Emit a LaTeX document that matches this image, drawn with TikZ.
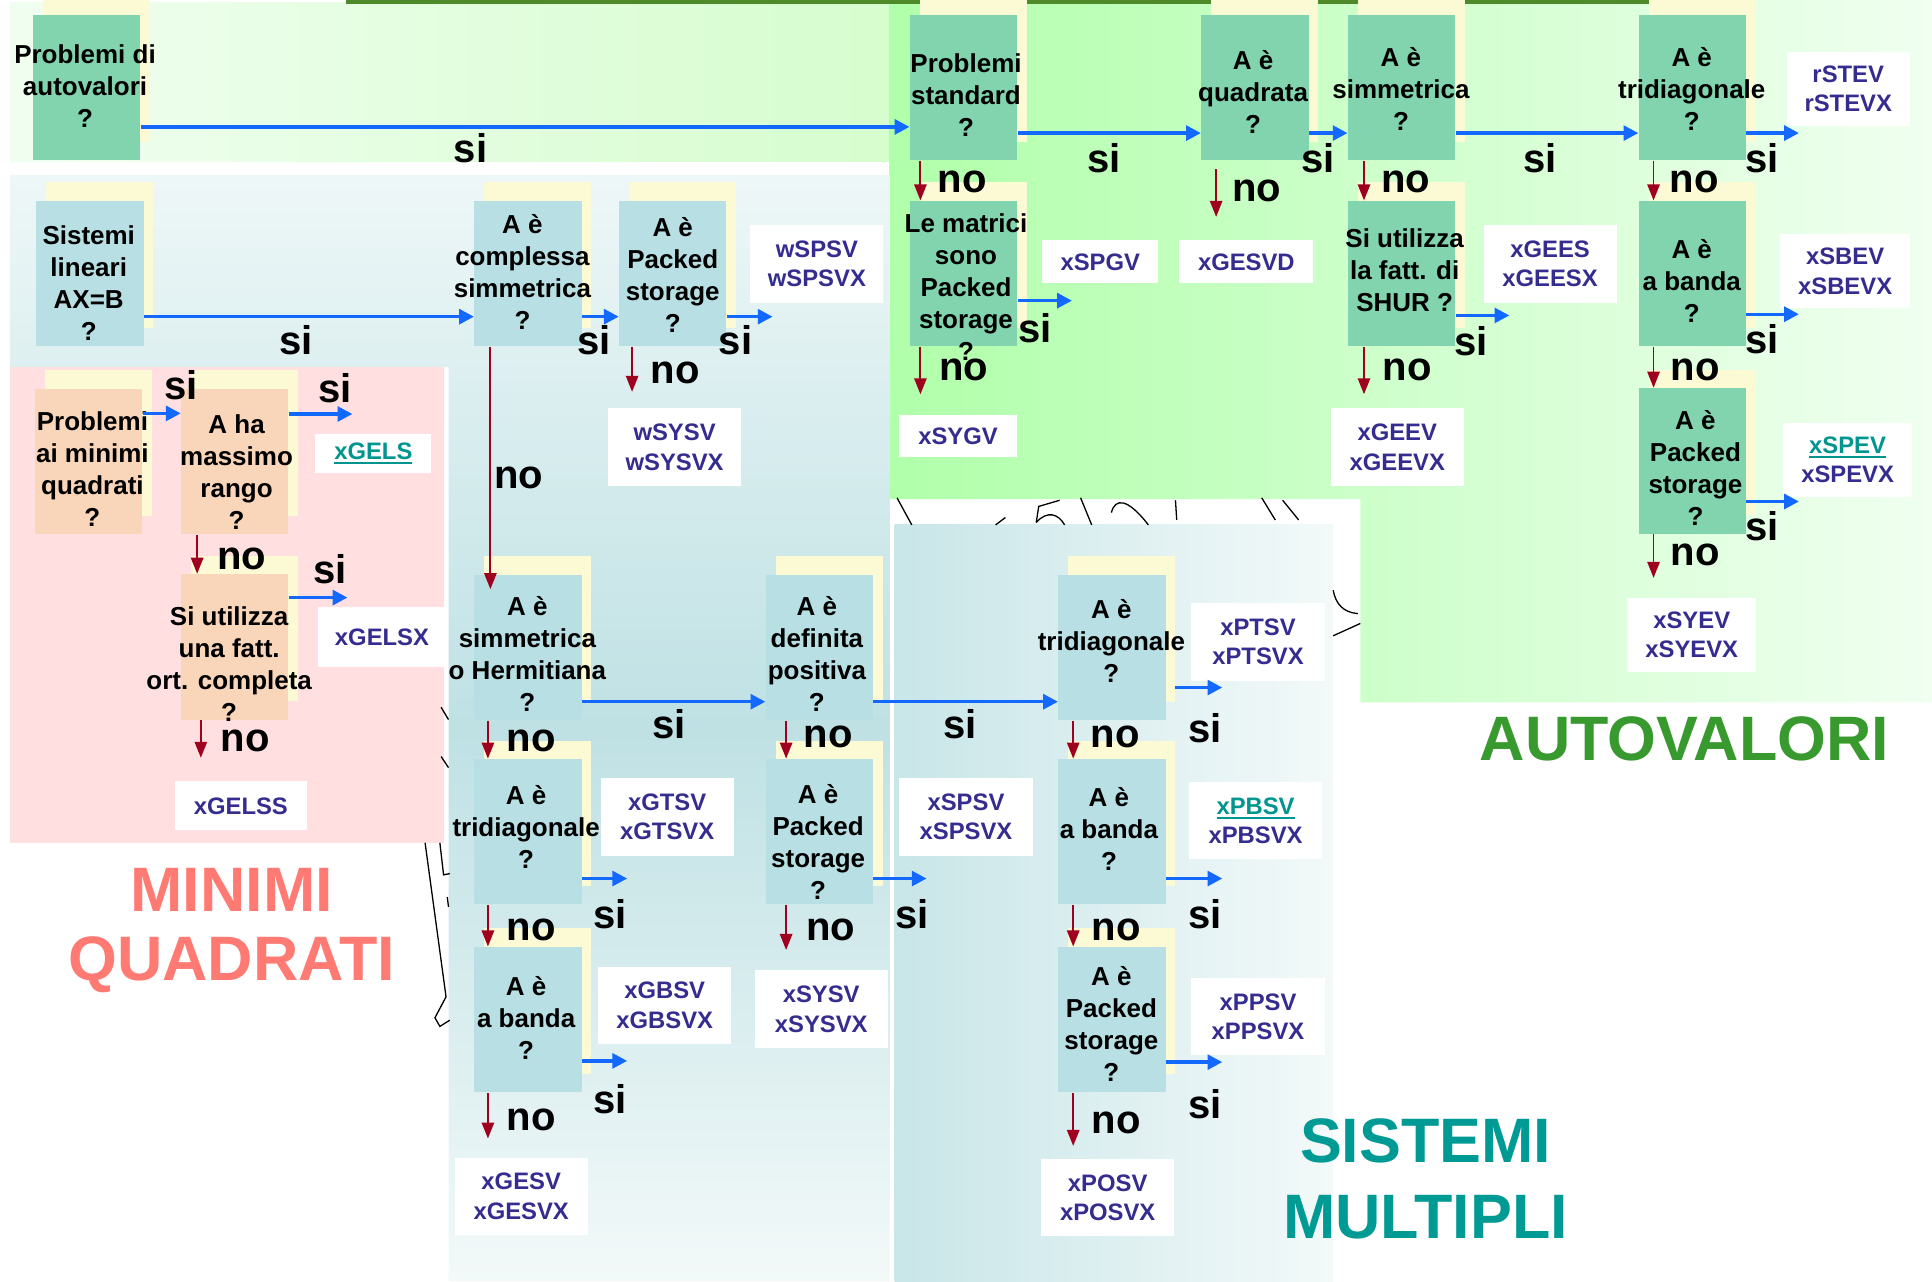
\documentclass[tikz,border=0pt]{standalone}
\usepackage{fontspec}
\setmainfont{Liberation Sans}
\usetikzlibrary{arrows.meta,calc,shadows}

\definecolor{boxgreen}{HTML}{82D4AE}
\definecolor{boxteal}{HTML}{B8E0E4}
\definecolor{boxpeach}{HTML}{F9D5B9}
\definecolor{shadowyellow}{HTML}{FBFAD4}
\definecolor{resblue}{HTML}{352C8F}
\definecolor{resteal}{HTML}{00968F}
\definecolor{siblue}{HTML}{1268FF}
\definecolor{nored}{HTML}{A00020}
\definecolor{bandL}{HTML}{F0FEF0}
\definecolor{bandR}{HTML}{D6FDCE}
\definecolor{greenL}{HTML}{B0FFAA}
\definecolor{greenR}{HTML}{F0FFF0}
\definecolor{topline}{HTML}{4F8A2A}
\definecolor{blueT}{HTML}{EEF7F7}
\definecolor{blueM}{HTML}{BFE1E4}
\definecolor{blueB}{HTML}{F3F9F9}
\definecolor{pinkbg}{HTML}{FFDFDF}
\definecolor{autoverde}{HTML}{389A2E}
\definecolor{minrosa}{HTML}{FF7A72}
\definecolor{sistteal}{HTML}{009A94}

\newcommand{\lnk}[1]{\textcolor{resteal}{\setbox0\hbox{#1}\rlap{\rule[-2.4pt]{\wd0}{1.2pt}}\box0}}

\tikzset{
  qbox/.style={minimum width=17.4mm,minimum height=23.6mm,inner sep=0pt,
    general shadow={fill=shadowyellow,shadow xshift=1.6mm,shadow yshift=3mm}},
  gbox/.style={qbox,fill=boxgreen},
  tbox/.style={qbox,fill=boxteal},
  pbox/.style={qbox,fill=boxpeach},
  qtxt/.style={align=center,inner sep=0pt,font=\fontsize{12}{14.8}\selectfont\bfseries},
  res/.style={fill=white,minimum width=21.6mm,minimum height=12.6mm,inner sep=0pt,
    align=center,text=resblue,font=\fontsize{11}{13.6}\selectfont\bfseries},
  siarrow/.style={draw=siblue,line width=0.55mm,-{Triangle[length=2.4mm,width=2.4mm]}},
  noarrow/.style={draw=nored,line width=0.3mm,-{Triangle[length=2.6mm,width=2mm]}},
  lbl/.style={inner sep=0pt,font=\fontsize{18.5}{20}\selectfont\bfseries},
  bigtitle/.style={inner sep=0pt,font=\fontsize{29}{34}\selectfont\bfseries},
  scribble/.style={draw=black,line width=0.6pt}
}

\begin{document}
\begin{tikzpicture}[x=0.2mm,y=-0.2mm]
\useasboundingbox (0,0) rectangle (1568,1040);

% sfondi
\shade[left color=bandL,right color=bandR] (8,2) rectangle (722,131);
\shade[left color=greenL,right color=greenR] (722,0) -- (1568,0) -- (1568,570)
  -- (1104,570) -- (1104,405) -- (722,405) -- cycle;
\fill[topline] (281,0) rectangle (1368,3);
\begin{scope}
\clip (8,142) -- (722,142) -- (722,1040) -- (364,1040) -- (364,298) -- (8,298) -- cycle;
\shade[top color=blueT,bottom color=blueB,middle color=blueM] (8,142) rectangle (722,1040);
\end{scope}
\shade[left color=blueM!85!white,right color=blueB] (726,426) rectangle (1082,1040);
\fill[pinkbg] (8,298) rectangle (360,684);

% tratti a mano
\draw[scribble] (728,404) -- (740,426);
\draw[scribble] (808,426) -- (816,420);
\draw[scribble] (860,406) -- (843,411) -- (841,424);
\draw[scribble] (841,424) .. controls (850,414) and (859,417) .. (864,426);
\draw[scribble] (877,404) -- (886,426);
\draw[scribble] (902,416) .. controls (905,404) and (915,404) .. (932,426);
\draw[scribble] (954,406) -- (955,422);
\draw[scribble] (1024,404) -- (1035,422);
\draw[scribble] (1041,406) -- (1054,422);
\draw[scribble] (1082,479) .. controls (1084,490) and (1090,497) .. (1102,498);
\draw[scribble] (1082,516) -- (1104,506);
\draw[scribble] (345,684) -- (362,809) -- (353,826) -- (357,833) -- (365,828);
\draw[scribble] (357,684) -- (360,710) -- (365,709);
\draw[scribble] (363,728) -- (364,736);
\draw[scribble] (358,574) -- (364,584);
\draw[scribble] (358,614) -- (364,623);

% autovalori
\node[gbox] (g0) at (70.5,71) {};
\node[qtxt] (g0t) at (69,70) {Problemi di\\autovalori\\?};
\node[gbox] (g1) at (782,71) {};
\node[qtxt] (g1t) at (784,77) {Problemi\\standard\\?};
\node[gbox] (g2) at (1018.5,71) {};
\node[qtxt] (g2t) at (1017,75) {A è\\quadrata\\?};
\node[gbox] (g3) at (1137.5,71) {};
\node[qtxt] (g3t) at (1137,72) {A è\\simmetrica\\?};
\node[gbox] (g4) at (1373.5,71) {};
\node[qtxt] (g4t) at (1373,72) {A è\\tridiagonale\\?};
\node[gbox] (g5) at (782,222) {};
\node[qtxt] (g5t) at (784,233) {Le matrici\\sono\\Packed\\storage\\?};
\node[gbox] (g6) at (1137.5,222) {};
\node[qtxt] (g6t) at (1140,219) {Si utilizza\\la fatt. di\\SHUR ?};
\node[gbox] (g7) at (1373.5,222) {};
\node[qtxt] (g7t) at (1373,228) {A è\\a banda\\?};
\node[gbox] (g8) at (1373.5,374) {};
\node[qtxt] (g8t) at (1376,380) {A è\\Packed\\storage\\?};

% sistemi
\node[tbox] (t0) at (73,222) {};
\node[qtxt] (t0t) at (72,230) {Sistemi\\lineari\\AX=B\\?};
\node[tbox] (t1) at (428.5,222) {};
\node[qtxt] (t1t) at (424,221) {A è\\complessa\\simmetrica\\?};
\node[tbox] (t2) at (546,222) {};
\node[qtxt] (t2t) at (546,223) {A è\\Packed\\storage\\?};
\node[tbox] (t3) at (428.5,525.5) {};
\node[qtxt] (t3t) at (428,531) {A è\\simmetrica\\o Hermitiana\\?};
\node[tbox] (t4) at (428.5,675) {};
\node[qtxt] (t4t) at (427,671) {A è\\tridiagonale\\?};
\node[tbox] (t5) at (428.5,827.5) {};
\node[qtxt] (t5t) at (427,826) {A è\\a banda\\?};
\node[tbox] (t6) at (665,525.5) {};
\node[qtxt] (t6t) at (663,531) {A è\\definita\\positiva\\?};
\node[tbox] (t7) at (665,675) {};
\node[qtxt] (t7t) at (664,683) {A è\\Packed\\storage\\?};
\node[tbox] (t8) at (902.5,525.5) {};
\node[qtxt] (t8t) at (902,520) {A è\\tridiagonale\\?};
\node[tbox] (t9) at (902.5,675) {};
\node[qtxt] (t9t) at (900,673) {A è\\a banda\\?};
\node[tbox] (t10) at (902.5,827.5) {};
\node[qtxt] (t10t) at (902,831) {A è\\Packed\\storage\\?};

% minimi quadrati
\node[pbox] (p0) at (72,374.5) {};
\node[qtxt] (p0t) at (75,381) {Problemi\\ai minimi\\quadrati\\?};
\node[pbox] (p1) at (190.5,374.5) {};
\node[qtxt] (p1t) at (192,383) {A ha\\massimo\\rango\\?};
\node[pbox] (p2) at (190.5,525) {};
\node[qtxt] (p2t) at (186,539) {Si utilizza\\una fatt.\\ort. completa\\?};

% routine
\node[res,minimum width=20mm,minimum height=12mm] (rstev) at (1500,72) {rSTEV\\rSTEVX};
\node[res,minimum width=21mm,minimum height=12mm] (xsbev) at (1497.5,220) {xSBEV\\xSBEVX};
\node[res,minimum width=21mm,minimum height=12mm] (xspev) at (1499.5,373) {\lnk{xSPEV}\\xSPEVX};
\node[res,minimum width=21mm,minimum height=12mm] (xsyev) at (1373,515) {xSYEV\\xSYEVX};
\node[res,minimum width=18.8mm,minimum height=7mm] (xspgv) at (893,212.5) {xSPGV};
\node[res,minimum width=21.8mm,minimum height=7mm] (xgesvd) at (1011.5,212.5) {xGESVD};
\node[res] (xgees) at (1258,214) {xGEES\\xGEESX};
\node[res,minimum width=19mm,minimum height=6.8mm] (xsygv) at (777.5,354) {xSYGV};
\node[res] (xgeev) at (1134,363) {xGEEV\\xGEEVX};
\node[res] (wspsv) at (663,214) {wSPSV\\wSPSVX};
\node[res] (wsysv) at (547.5,363) {wSYSV\\wSYSVX};
\node[res,minimum width=18.8mm,minimum height=6.4mm] (xgels) at (303,368) {\lnk{xGELS}};
\node[res,minimum width=20.8mm,minimum height=9.6mm] (xgelsx) at (310,517) {xGELSX};
\node[res,minimum width=21.4mm,minimum height=8mm] (xgelss) at (195.5,654) {xGELSS};
\node[res] (xptsv) at (1021,521) {xPTSV\\xPTSVX};
\node[res] (xgtsv) at (541.5,663) {xGTSV\\xGTSVX};
\node[res] (xspsv) at (784,663) {xSPSV\\xSPSVX};
\node[res] (xpbsv) at (1019,666) {\lnk{xPBSV}\\xPBSVX};
\node[res] (xgbsv) at (539.5,816) {xGBSV\\xGBSVX};
\node[res] (xsysv) at (666.5,819) {xSYSV\\xSYSVX};
\node[res] (xppsv) at (1021,825) {xPPSV\\xPPSVX};
\node[res] (xgesv) at (423,971) {xGESV\\xGESVX};
\node[res] (xposv) at (899,972) {xPOSV\\xPOSVX};

% estremi liberi delle frecce
\coordinate (g4s) at (1460,108);
\coordinate (g5s) at (870,244);
\coordinate (g6s) at (1225,256);
\coordinate (g7s) at (1460,255);
\coordinate (g8s) at (1460,407);
\coordinate (t2s) at (627,257);
\coordinate (t8s) at (992,558);
\coordinate (t4s) at (509,713);
\coordinate (t7s) at (752,713);
\coordinate (t9s) at (992,713);
\coordinate (t5s) at (509,861);
\coordinate (t10s) at (992,862);
\coordinate (p1s) at (286,336);
\coordinate (p2s) at (282,485);
\coordinate (g2n) at (987,176);
\coordinate (g5n) at (747,320);
\coordinate (g6n) at (1107,320);
\coordinate (g8n) at (1342,469);
\coordinate (t2n) at (513,318);
\coordinate (t5n) at (396,924);
\coordinate (t7n) at (638,771);
\coordinate (t10n) at (871,930);
\coordinate (p2n) at (163,615);

% frecce si
\draw[siarrow] ([yshift=-6.4mm]g0.east) -- ([yshift=-6.4mm]g1.west);
\draw[siarrow] ([yshift=-7.4mm]g1.east) -- ([yshift=-7.4mm]g2.west);
\draw[siarrow] ([yshift=-7.4mm]g2.east) -- ([yshift=-7.4mm]g3.west);
\draw[siarrow] ([yshift=-7.4mm]g3.east) -- ([yshift=-7.4mm]g4.west);
\draw[siarrow] (g4.east |- g4s) -- (g4s);
\draw[siarrow] (g5.east |- g5s) -- (g5s);
\draw[siarrow] (g6.east |- g6s) -- (g6s);
\draw[siarrow] (g7.east |- g7s) -- (g7s);
\draw[siarrow] (g8.east |- g8s) -- (g8s);
\draw[siarrow] ([yshift=-7mm]t0.east) -- ([yshift=-7mm]t1.west);
\draw[siarrow] ([yshift=-7mm]t1.east) -- ([yshift=-7mm]t2.west);
\draw[siarrow] (t2.east |- t2s) -- (t2s);
\draw[siarrow] ([yshift=-8.8mm]t3.east) -- ([yshift=-8.8mm]t6.west);
\draw[siarrow] ([yshift=-8.8mm]t6.east) -- ([yshift=-8.8mm]t8.west);
\draw[siarrow] ([xshift=1.4mm]t8.east |- t8s) -- (t8s);
\draw[siarrow] (t4.east |- t4s) -- (t4s);
\draw[siarrow] (t7.east |- t7s) -- (t7s);
\draw[siarrow] (t9.east |- t9s) -- (t9s);
\draw[siarrow] (t5.east |- t5s) -- (t5s);
\draw[siarrow] (t10.east |- t10s) -- (t10s);
\draw[siarrow] ([yshift=7.8mm]p0.east) -- ([yshift=7.8mm]p1.west);
\draw[siarrow] (p1.east |- p1s) -- (p1s);
\draw[siarrow] (p2.east |- p2s) -- (p2s);

% frecce no
\draw[noarrow] ([xshift=-7mm]g1.south) -- ([xshift=-7mm]g5.north);
\draw[noarrow,shorten <=1.4mm] (g2n |- g2.south) -- (g2n);
\draw[noarrow] ([xshift=-6.1mm]g3.south) -- ([xshift=-6.1mm]g6.north);
\draw[noarrow] ([xshift=-6.3mm]g4.south) -- ([xshift=-6.3mm]g7.north);
\draw[noarrow] (g5n |- g5.south) -- (g5n);
\draw[noarrow] (g6n |- g6.south) -- (g6n);
\draw[noarrow] ([xshift=-6.3mm]g7.south) -- ([xshift=-6.3mm]g8.north);
\draw[noarrow] (g8n |- g8.south) -- (g8n);
\draw[noarrow] ([xshift=-6.1mm]t1.south) -- ([xshift=-6.1mm,yshift=-2.4mm]t3.north);
\draw[noarrow] (t2n |- t2.south) -- (t2n);
\draw[noarrow] ([xshift=-6.5mm]t3.south) -- ([xshift=-6.5mm]t4.north);
\draw[noarrow] ([xshift=-6.5mm]t4.south) -- ([xshift=-6.5mm]t5.north);
\draw[noarrow] (t5n |- t5.south) -- (t5n);
\draw[noarrow] ([xshift=-5.4mm]t6.south) -- ([xshift=-5.4mm]t7.north);
\draw[noarrow] (t7n |- t7.south) -- (t7n);
\draw[noarrow] ([xshift=-6.3mm]t8.south) -- ([xshift=-6.3mm]t9.north);
\draw[noarrow] ([xshift=-6.3mm]t9.south) -- ([xshift=-6.3mm]t10.north);
\draw[noarrow] (t10n |- t10.south) -- (t10n);
\draw[noarrow] ([xshift=-6.1mm]p1.south) -- ([xshift=-6.1mm]p2.north);
\draw[noarrow] (p2n |- p2.south) -- (p2n);

% etichette si
\node[lbl] (sig0) at (382,120) {si};
\node[lbl] (sig1) at (896,128) {si};
\node[lbl] (sig2) at (1070,128) {si};
\node[lbl] (sig3) at (1250,128) {si};
\node[lbl] (sig4) at (1430,128) {si};
\node[lbl] (sig5) at (840,266) {si};
\node[lbl] (sig6) at (1194,277) {si};
\node[lbl] (sig7) at (1430,275) {si};
\node[lbl] (sig8) at (1430,427) {si};
\node[lbl] (sit0) at (240,276) {si};
\node[lbl] (sit1) at (482,276) {si};
\node[lbl] (sit2) at (597,276) {si};
\node[lbl] (sit3) at (543,588) {si};
\node[lbl] (sit6) at (779,588) {si};
\node[lbl] (sit8) at (978,591) {si};
\node[lbl] (sit4) at (495,742) {si};
\node[lbl] (sit7) at (740,742) {si};
\node[lbl] (sit9) at (978,742) {si};
\node[lbl] (sit5) at (495,892) {si};
\node[lbl] (sit10) at (978,896) {si};
\node[lbl] (sip0) at (147,313) {si};
\node[lbl] (sip1) at (272,315) {si};
\node[lbl] (sip2) at (268,462) {si};

% etichette no
\node[lbl] (nog1) at (781,148) {no};
\node[lbl] (nog2) at (1020,155) {no};
\node[lbl] (nog3) at (1141,148) {no};
\node[lbl] (nog4) at (1375,148) {no};
\node[lbl] (nog5) at (782,300) {no};
\node[lbl] (nog6) at (1142,300) {no};
\node[lbl] (nog7) at (1376,300) {no};
\node[lbl] (nog8) at (1376,450) {no};
\node[lbl] (not1) at (421,388) {no};
\node[lbl] (not2) at (548,303) {no};
\node[lbl] (not3) at (431,601) {no};
\node[lbl] (not4) at (431,755) {no};
\node[lbl] (not5) at (431,909) {no};
\node[lbl] (not6) at (672,598) {no};
\node[lbl] (not7) at (674,755) {no};
\node[lbl] (not8) at (905,598) {no};
\node[lbl] (not9) at (906,755) {no};
\node[lbl] (not10) at (906,911) {no};
\node[lbl] (nop1) at (196,454) {no};
\node[lbl] (nop2) at (199,601) {no};

% titoli
\node[bigtitle,text=autoverde] (autov) at (1367,600) {AUTOVALORI};
\node[bigtitle,text=minrosa] (minimi) at (188,722) {MINIMI};
\node[bigtitle,text=minrosa] (quadr) at (188,783) {QUADRATI};
\node[bigtitle,text=sistteal] (sist) at (1157,926) {SISTEMI};
\node[bigtitle,text=sistteal] (multi) at (1157,988) {MULTIPLI};
\end{tikzpicture}
\end{document}
